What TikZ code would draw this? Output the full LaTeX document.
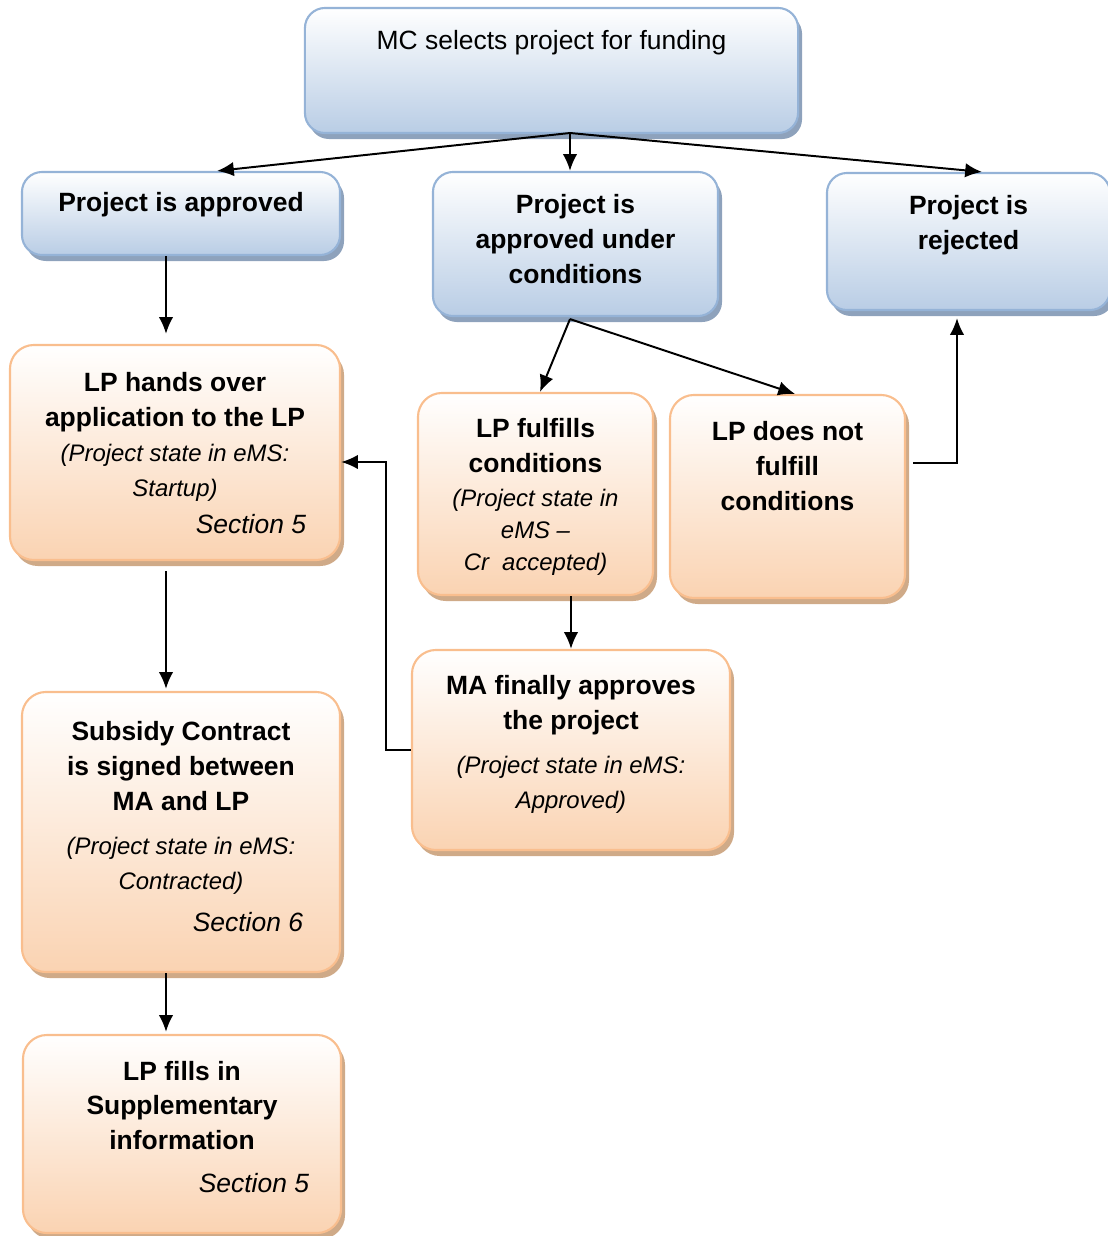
\documentclass[tikz,border=0pt]{standalone}
\usepackage{fontspec}
\setmainfont{Liberation Sans}
\usetikzlibrary{arrows.meta,calc,shadows}

\definecolor{bluefill}{HTML}{B9CDE5}
\definecolor{blueline}{HTML}{95B3D7}
\definecolor{blueshadow}{HTML}{8EA2BC}
\definecolor{orangefill}{HTML}{FAD3B2}
\definecolor{orangeline}{HTML}{F9BE8E}
\definecolor{orangeshadow}{HTML}{CFAA88}

% box text: width, height, first baseline, lines
\newcommand{\boxtext}[4]{\parbox[c][#2][t]{#1}{\centering\rule{0pt}{#3}#4}}
\newcommand{\mainsize}{\fontsize{18.8}{24.8}\selectfont}
\newcommand{\state}{\fontsize{17}{24.8}\selectfont\mdseries\itshape}

\tikzset{
  bluebox/.style={draw=blueline, line width=1.5pt, rounded corners=0.5cm, inner sep=0pt,
    top color=white, bottom color=bluefill, font=\mainsize,
    drop shadow={shadow xshift=0.1cm, shadow yshift=-0.15cm, fill=blueshadow, opacity=1}},
  orangebox/.style={draw=orangeline, line width=1.5pt, rounded corners=0.6cm, inner sep=0pt,
    top color=white, bottom color=orangefill, font=\mainsize\bfseries,
    drop shadow={shadow xshift=0.1cm, shadow yshift=-0.15cm, fill=orangeshadow, opacity=1}},
  link/.style={-{Latex[length=0.42cm,width=0.36cm]}, line width=1.4pt}
}

\begin{document}
\begin{tikzpicture}[x=0.025cm, y=-0.025cm]
    \useasboundingbox (0,0) rectangle (1107,1236);

    %top
    \node[bluebox] (mc) at (551.5,70.5) {\boxtext{12.325cm}{3.125cm}{1.05cm}{MC selects project for funding}};
    \coordinate (split) at (570,133);

    %decisions
    \node[bluebox, font=\mainsize\bfseries] (approved) at (181,213.5) {\boxtext{7.95cm}{2.075cm}{0.975cm}{Project is approved}};
    \node[bluebox, font=\mainsize\bfseries] (cond) at (575.5,244) {\boxtext{7.125cm}{3.6cm}{1.05cm}{Project is\\approved under\\conditions}};
    \node[bluebox, font=\mainsize\bfseries] (rejected) at (968.5,241.5) {\boxtext{7.075cm}{3.425cm}{1.05cm}{Project is\\rejected}};

    %steps
    \node[orangebox] (hands) at (175,452.5) {\boxtext{8.25cm}{5.375cm}{1.175cm}{LP hands over\\application to the LP\\{\state (Project state in eMS:}\\{\state Startup)}\\[0.05cm]\hspace*{\fill}{\mdseries\itshape Section 5}\hspace*{0.85cm}}};
    \node[orangebox] (fulfills) at (535.5,494) {\boxtext{5.875cm}{5.05cm}{1.125cm}{LP fulfills\\conditions\\[-0.025cm]{\state (Project state in}\\[-0.075cm]{\state eMS --}\\[-0.075cm]{\state Cr\ \ accepted)}}};
    \node[orangebox] (doesnot) at (787.5,496.5) {\boxtext{5.875cm}{5.075cm}{1.15cm}{LP does not\\fulfill\\conditions}};
    \node[orangebox] (ma) at (571,750) {\boxtext{7.95cm}{5cm}{1.125cm}{MA finally approves\\the project\\[0.225cm]{\state (Project state in eMS:}\\{\state Approved)}}};
    \node[orangebox] (subsidy) at (181,832) {\boxtext{7.95cm}{7cm}{1.225cm}{Subsidy Contract\\is signed between\\MA and LP\\[0.225cm]{\state (Project state in eMS:}\\{\state Contracted)}\\[0.175cm]\hspace*{\fill}{\mdseries\itshape Section 6}\hspace*{0.925cm}}};
    \node[orangebox] (fills) at (182,1134) {\boxtext{7.95cm}{4.95cm}{1.125cm}{LP fills in\\Supplementary\\information\\[0.2cm]\hspace*{\fill}{\mdseries\itshape Section 5}\hspace*{0.8cm}}};

    %arrows from the top
    \draw[link] (split) -- ($(approved.north)+(36,0)$);
    \draw[link] (split) -- (split |- cond.north);
    \draw[link] (split) -- ($(rejected.north)+(13.5,0)$);

    %left column
    \draw[link] ($(approved.south)+(-15,0)$) -- ($(hands.north)+(-9,-10)$);
    \draw[link] ($(hands.south)+(-9,10)$) -- ($(subsidy.north)+(-15,-2)$);
    \draw[link] ($(subsidy.south)+(-15,0)$) -- ($(fills.north)+(-16,-2)$);

    %conditions
    \coordinate (condout) at ($(cond.south)+(-5.5,2)$);
    \draw[link] (condout) -- ($(fulfills.north)+(4.5,0)$);
    \draw[link] (condout) -- ($(doesnot.north)+(7.5,0)$);
    \draw[link] ($(doesnot.east)+(7,-33.5)$) -| ($(rejected.south)+(-11.5,7)$);
    \draw[link] (fulfills.south -| ma.north) -- (ma.north);
    \draw[link] (ma.west) -- ++(-25,0) |- ($(hands.east)+(0,9.5)$);
\end{tikzpicture}
\end{document}
